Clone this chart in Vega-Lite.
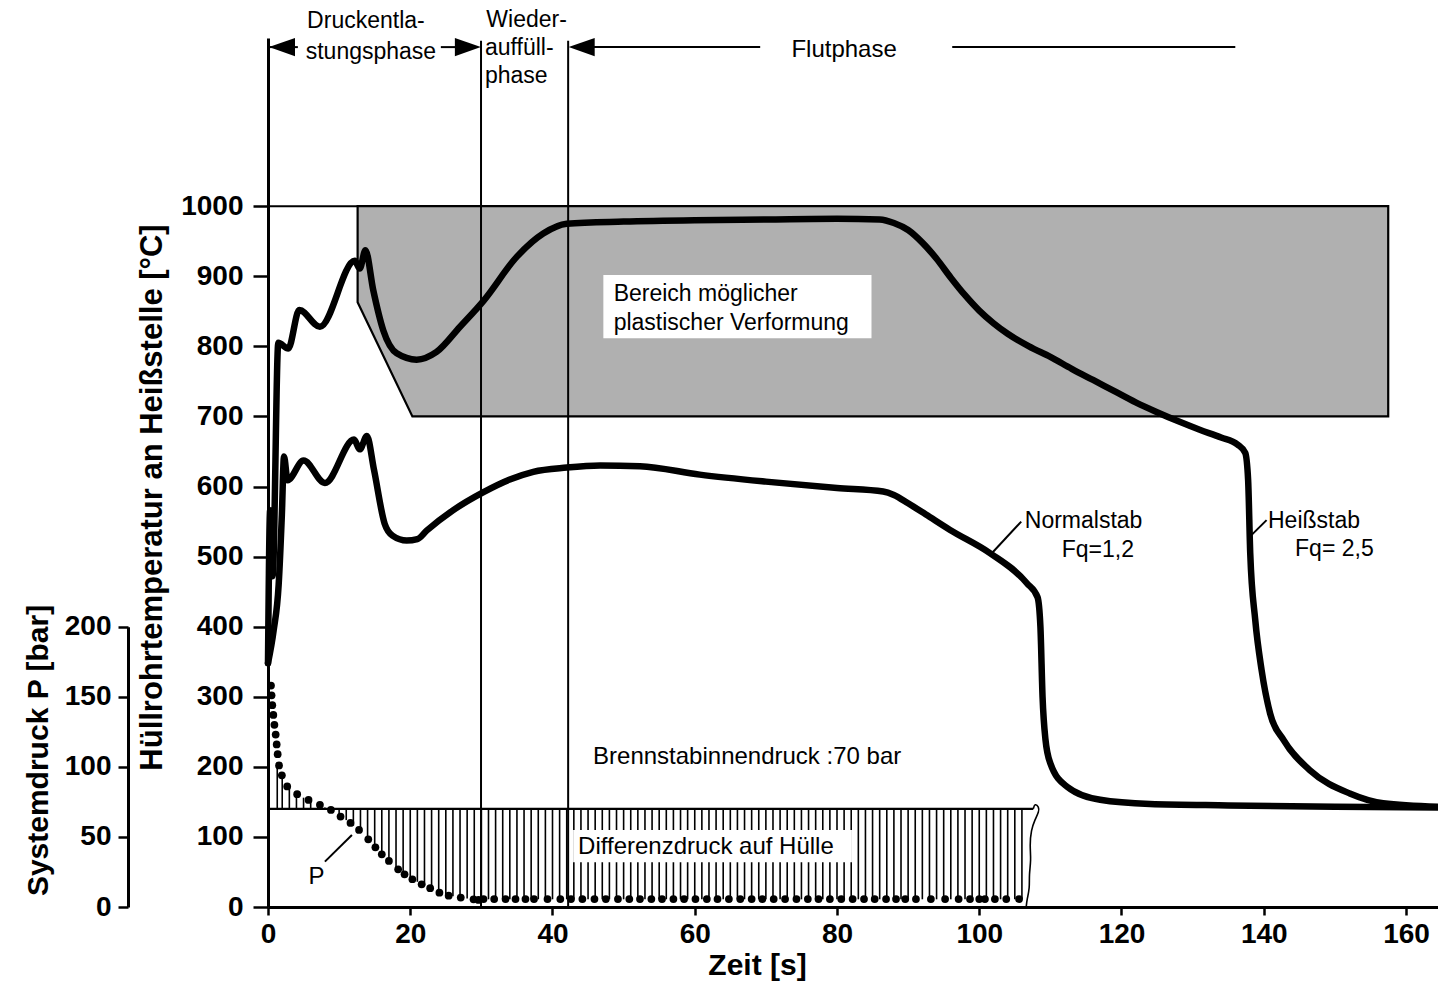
{
  "$schema": "https://vega.github.io/schema/vega-lite/v6.json",
  "width": 1170,
  "height": 869,
  "autosize": {"type": "none"},
  "padding": {"left": 268, "top": 38, "right": 0, "bottom": 77},
  "background": "white",
  "config": {
    "view": {"stroke": null},
    "font": "Liberation Sans",
    "axis": {
      "grid": false,
      "domainColor": "black",
      "domainWidth": 3,
      "tickColor": "black",
      "tickWidth": 2.5,
      "labelColor": "black",
      "labelFont": "Liberation Sans",
      "labelFontSize": 28,
      "labelFontWeight": "bold",
      "labelFlush": false,
      "labelOverlap": false,
      "labelBound": false,
      "format": "d",
      "titleColor": "black",
      "titleFont": "Liberation Sans",
      "titleFontSize": 30,
      "titleFontWeight": "bold"
    }
  },
  "datasets": {
    "curves": [
      {"series": "Heißstab", "t": 0, "T": 348},
      {"series": "Heißstab", "t": 0.3, "T": 566},
      {"series": "Heißstab", "t": 0.65, "T": 472},
      {"series": "Heißstab", "t": 1.45, "T": 805},
      {"series": "Heißstab", "t": 2.85, "T": 797},
      {"series": "Heißstab", "t": 4.4, "T": 852},
      {"series": "Heißstab", "t": 7.3, "T": 828},
      {"series": "Heißstab", "t": 12.2, "T": 922},
      {"series": "Heißstab", "t": 12.9, "T": 911},
      {"series": "Heißstab", "t": 13.7, "T": 937},
      {"series": "Heißstab", "t": 14.8, "T": 880},
      {"series": "Heißstab", "t": 16.2, "T": 823},
      {"series": "Heißstab", "t": 18.1, "T": 790},
      {"series": "Heißstab", "t": 20.9, "T": 781},
      {"series": "Heißstab", "t": 23.7, "T": 792},
      {"series": "Heißstab", "t": 27.0, "T": 828},
      {"series": "Heißstab", "t": 30.3, "T": 865},
      {"series": "Heißstab", "t": 35.0, "T": 928},
      {"series": "Heißstab", "t": 38.7, "T": 961},
      {"series": "Heißstab", "t": 42.0, "T": 975},
      {"series": "Heißstab", "t": 50, "T": 978},
      {"series": "Heißstab", "t": 60, "T": 980},
      {"series": "Heißstab", "t": 70, "T": 981},
      {"series": "Heißstab", "t": 80, "T": 982},
      {"series": "Heißstab", "t": 86, "T": 981},
      {"series": "Heißstab", "t": 88, "T": 976},
      {"series": "Heißstab", "t": 90, "T": 966},
      {"series": "Heißstab", "t": 92, "T": 948},
      {"series": "Heißstab", "t": 94, "T": 925},
      {"series": "Heißstab", "t": 96, "T": 898},
      {"series": "Heißstab", "t": 98, "T": 873},
      {"series": "Heißstab", "t": 100, "T": 851},
      {"series": "Heißstab", "t": 102, "T": 833},
      {"series": "Heißstab", "t": 104, "T": 818},
      {"series": "Heißstab", "t": 107, "T": 800},
      {"series": "Heißstab", "t": 110, "T": 785},
      {"series": "Heißstab", "t": 113, "T": 768},
      {"series": "Heißstab", "t": 116, "T": 752},
      {"series": "Heißstab", "t": 119, "T": 736},
      {"series": "Heißstab", "t": 122, "T": 720},
      {"series": "Heißstab", "t": 125, "T": 706},
      {"series": "Heißstab", "t": 128, "T": 693},
      {"series": "Heißstab", "t": 131, "T": 681},
      {"series": "Heißstab", "t": 134, "T": 670},
      {"series": "Heißstab", "t": 136.3, "T": 660},
      {"series": "Heißstab", "t": 137.4, "T": 648},
      {"series": "Heißstab", "t": 137.8, "T": 610},
      {"series": "Heißstab", "t": 138.1, "T": 505},
      {"series": "Heißstab", "t": 138.8, "T": 410},
      {"series": "Heißstab", "t": 139.7, "T": 338},
      {"series": "Heißstab", "t": 140.9, "T": 276},
      {"series": "Heißstab", "t": 142.8, "T": 238},
      {"series": "Heißstab", "t": 146.5, "T": 195},
      {"series": "Heißstab", "t": 152.1, "T": 162},
      {"series": "Heißstab", "t": 156.8, "T": 148},
      {"series": "Heißstab", "t": 164.5, "T": 143},
      {"series": "Normalstab", "t": 0, "T": 348},
      {"series": "Normalstab", "t": 0.8, "T": 395},
      {"series": "Normalstab", "t": 1.5, "T": 460},
      {"series": "Normalstab", "t": 1.95, "T": 560},
      {"series": "Normalstab", "t": 2.25, "T": 643},
      {"series": "Normalstab", "t": 2.75, "T": 609},
      {"series": "Normalstab", "t": 5.0, "T": 637},
      {"series": "Normalstab", "t": 8.0, "T": 605},
      {"series": "Normalstab", "t": 12.1, "T": 667},
      {"series": "Normalstab", "t": 12.9, "T": 653},
      {"series": "Normalstab", "t": 13.9, "T": 672},
      {"series": "Normalstab", "t": 14.9, "T": 624},
      {"series": "Normalstab", "t": 16.4, "T": 547},
      {"series": "Normalstab", "t": 17.5, "T": 530},
      {"series": "Normalstab", "t": 19.5, "T": 523},
      {"series": "Normalstab", "t": 21, "T": 525},
      {"series": "Normalstab", "t": 22.3, "T": 537},
      {"series": "Normalstab", "t": 26, "T": 566},
      {"series": "Normalstab", "t": 30.3, "T": 592},
      {"series": "Normalstab", "t": 34, "T": 610},
      {"series": "Normalstab", "t": 37.3, "T": 621},
      {"series": "Normalstab", "t": 42, "T": 627},
      {"series": "Normalstab", "t": 46.7, "T": 630},
      {"series": "Normalstab", "t": 52.3, "T": 629},
      {"series": "Normalstab", "t": 60.7, "T": 617},
      {"series": "Normalstab", "t": 70, "T": 607},
      {"series": "Normalstab", "t": 80, "T": 598},
      {"series": "Normalstab", "t": 86.5, "T": 593},
      {"series": "Normalstab", "t": 88, "T": 588},
      {"series": "Normalstab", "t": 90, "T": 576},
      {"series": "Normalstab", "t": 92.5, "T": 560},
      {"series": "Normalstab", "t": 95.9, "T": 538},
      {"series": "Normalstab", "t": 101.5, "T": 505},
      {"series": "Normalstab", "t": 106.7, "T": 462},
      {"series": "Normalstab", "t": 108.2, "T": 442},
      {"series": "Normalstab", "t": 108.6, "T": 400},
      {"series": "Normalstab", "t": 108.9, "T": 300},
      {"series": "Normalstab", "t": 109.3, "T": 240},
      {"series": "Normalstab", "t": 110, "T": 205},
      {"series": "Normalstab", "t": 112.3, "T": 172},
      {"series": "Normalstab", "t": 117, "T": 153},
      {"series": "Normalstab", "t": 124, "T": 147},
      {"series": "Normalstab", "t": 135, "T": 145},
      {"series": "Normalstab", "t": 150, "T": 143},
      {"series": "Normalstab", "t": 164.5, "T": 142}
    ],
    "dots": [
      {"t": 0.42, "P": 158}, {"t": 0.5, "P": 151}, {"t": 0.6, "P": 144}, {"t": 0.75, "P": 137},
      {"t": 0.9, "P": 130}, {"t": 1.08, "P": 123}, {"t": 1.22, "P": 116}, {"t": 1.36, "P": 109},
      {"t": 1.55, "P": 101}, {"t": 1.95, "P": 94}, {"t": 2.7, "P": 86}, {"t": 4.1, "P": 80.5},
      {"t": 5.7, "P": 76.4}, {"t": 7.3, "P": 72.9}, {"t": 8.85, "P": 69.3}, {"t": 10.2, "P": 64.5},
      {"t": 11.6, "P": 60}, {"t": 12.8, "P": 55}, {"t": 14.1, "P": 48.3}, {"t": 15.1, "P": 42.6},
      {"t": 16.0, "P": 37.6}, {"t": 17.0, "P": 32.9}, {"t": 18.3, "P": 26.9}, {"t": 19.2, "P": 23.3},
      {"t": 20.3, "P": 19.8}, {"t": 21.6, "P": 16.2}, {"t": 22.8, "P": 13.4}, {"t": 24.1, "P": 10.2},
      {"t": 25.4, "P": 8.1}, {"t": 27.1, "P": 6.7}, {"t": 28.9, "P": 5.5}, {"t": 29.6, "P": 5},
      {"t": 30.3, "P": 5.7}, {"t": 31.8, "P": 5.7}, {"t": 33.4, "P": 5.7}, {"t": 34.8, "P": 5.7},
      {"t": 36.2, "P": 5.7}, {"t": 37.4, "P": 5.7}, {"t": 39.3, "P": 5.7}, {"t": 41.1, "P": 5.7},
      {"t": 42.6, "P": 5.7}, {"t": 44.2, "P": 5.7}, {"t": 45.9, "P": 5.7}, {"t": 47.5, "P": 5.7},
      {"t": 49.2, "P": 5.7}, {"t": 50.8, "P": 5.7}, {"t": 52.3, "P": 5.7}, {"t": 53.9, "P": 5.7},
      {"t": 55.4, "P": 5.7}, {"t": 57.0, "P": 5.7}, {"t": 58.5, "P": 5.7}, {"t": 60.1, "P": 5.7},
      {"t": 61.7, "P": 5.7}, {"t": 63.2, "P": 5.7}, {"t": 64.8, "P": 5.7}, {"t": 66.4, "P": 5.7},
      {"t": 68.0, "P": 5.7}, {"t": 69.5, "P": 5.7}, {"t": 71.1, "P": 5.7}, {"t": 72.7, "P": 5.7},
      {"t": 74.3, "P": 5.7}, {"t": 75.9, "P": 5.7}, {"t": 77.4, "P": 5.7}, {"t": 79.0, "P": 5.7},
      {"t": 80.6, "P": 5.7}, {"t": 82.2, "P": 5.7}, {"t": 83.8, "P": 5.7}, {"t": 85.3, "P": 5.7},
      {"t": 86.9, "P": 5.7}, {"t": 88.3, "P": 5.7}, {"t": 89.6, "P": 5.7}, {"t": 91.1, "P": 5.7},
      {"t": 93.2, "P": 5.7}, {"t": 95.2, "P": 5.7}, {"t": 97.1, "P": 5.7}, {"t": 98.7, "P": 5.7},
      {"t": 100.0, "P": 5.7}, {"t": 100.8, "P": 5.7}, {"t": 102.2, "P": 5.7}, {"t": 103.8, "P": 5.7},
      {"t": 105.6, "P": 5.7}
    ],
    "diff": [
      {"t": 1.3, "P": 103}, {"t": 2, "P": 93}, {"t": 3, "P": 85}, {"t": 4, "P": 81}, {"t": 5, "P": 78},
      {"t": 6, "P": 75.5}, {"t": 7, "P": 73.5}, {"t": 8, "P": 71}, {"t": 9, "P": 69}, {"t": 10, "P": 66},
      {"t": 11, "P": 62}, {"t": 12, "P": 58}, {"t": 13, "P": 54}, {"t": 14, "P": 49}, {"t": 15, "P": 43.5},
      {"t": 16, "P": 38}, {"t": 17, "P": 33}, {"t": 18, "P": 28.5}, {"t": 19, "P": 24.5}, {"t": 20, "P": 21},
      {"t": 21, "P": 18}, {"t": 22, "P": 15.2}, {"t": 23, "P": 13}, {"t": 24, "P": 10.5}, {"t": 25, "P": 8.8},
      {"t": 26, "P": 7.6}, {"t": 27, "P": 6.7}, {"t": 28, "P": 6}, {"t": 29, "P": 5.5}, {"t": 30, "P": 5.5},
      {"t": 31, "P": 5.5}, {"t": 32, "P": 5.5}, {"t": 33, "P": 5.5}, {"t": 34, "P": 5.5}, {"t": 35, "P": 5.5},
      {"t": 36, "P": 5.5}, {"t": 37, "P": 5.5}, {"t": 38, "P": 5.5}, {"t": 39, "P": 5.5}, {"t": 40, "P": 5.5},
      {"t": 41, "P": 5.5}, {"t": 42, "P": 5.5}, {"t": 43, "P": 5.5}, {"t": 44, "P": 5.5}, {"t": 45, "P": 5.5},
      {"t": 46, "P": 5.5}, {"t": 47, "P": 5.5}, {"t": 48, "P": 5.5}, {"t": 49, "P": 5.5}, {"t": 50, "P": 5.5},
      {"t": 51, "P": 5.5}, {"t": 52, "P": 5.5}, {"t": 53, "P": 5.5}, {"t": 54, "P": 5.5}, {"t": 55, "P": 5.5},
      {"t": 56, "P": 5.5}, {"t": 57, "P": 5.5}, {"t": 58, "P": 5.5}, {"t": 59, "P": 5.5}, {"t": 60, "P": 5.5},
      {"t": 61, "P": 5.5}, {"t": 62, "P": 5.5}, {"t": 63, "P": 5.5}, {"t": 64, "P": 5.5}, {"t": 65, "P": 5.5},
      {"t": 66, "P": 5.5}, {"t": 67, "P": 5.5}, {"t": 68, "P": 5.5}, {"t": 69, "P": 5.5}, {"t": 70, "P": 5.5},
      {"t": 71, "P": 5.5}, {"t": 72, "P": 5.5}, {"t": 73, "P": 5.5}, {"t": 74, "P": 5.5}, {"t": 75, "P": 5.5},
      {"t": 76, "P": 5.5}, {"t": 77, "P": 5.5}, {"t": 78, "P": 5.5}, {"t": 79, "P": 5.5}, {"t": 80, "P": 5.5},
      {"t": 81, "P": 5.5}, {"t": 82, "P": 5.5}, {"t": 83, "P": 5.5}, {"t": 84, "P": 5.5}, {"t": 85, "P": 5.5},
      {"t": 86, "P": 5.5}, {"t": 87, "P": 5.5}, {"t": 88, "P": 5.5}, {"t": 89, "P": 5.5}, {"t": 90, "P": 5.5},
      {"t": 91, "P": 5.5}, {"t": 92, "P": 5.5}, {"t": 93, "P": 5.5}, {"t": 94, "P": 5.5}, {"t": 95, "P": 5.5},
      {"t": 96, "P": 5.5}, {"t": 97, "P": 5.5}, {"t": 98, "P": 5.5}, {"t": 99, "P": 5.5}, {"t": 100, "P": 5.5},
      {"t": 101, "P": 5.5}, {"t": 102, "P": 5.5}, {"t": 103, "P": 5.5}, {"t": 104, "P": 5.5}, {"t": 105, "P": 5.5},
      {"t": 106, "P": 5.5}
    ]
  },
  "layer": [
    {
      "layer": [
        {
          "description": "Bereich möglicher plastischer Verformung",
          "data": {"values": [
            {"t": 12.6, "T": 863, "T2": 1000},
            {"t": 20.3, "T": 700, "T2": 1000},
            {"t": 157.5, "T": 700, "T2": 1000}
          ]},
          "mark": {"type": "area", "fill": "#b0b0b0", "stroke": "black", "strokeWidth": 2.2},
          "encoding": {
            "x": {"field": "t", "type": "quantitative",
                  "scale": {"domain": [0, 164.5], "nice": false, "zero": false},
                  "axis": {"values": [0, 20, 40, 60, 80, 100, 120, 140, 160], "tickSize": 8, "labelPadding": 5,
                           "title": "Zeit [s]", "titleX": 489, "titleY": 58, "titleBaseline": "middle"}},
            "y": {"field": "T", "type": "quantitative",
                  "scale": {"domain": [0, 1240], "nice": false, "zero": false},
                  "axis": {"values": [0, 100, 200, 300, 400, 500, 600, 700, 800, 900, 1000], "tickSize": 15, "labelPadding": 10,
                           "title": "Hüllrohrtemperatur  an  Heißstelle  [°C]", "titleX": -116, "titleY": 459,
                           "titleFontSize": 31,
                           "titleBaseline": "middle", "titleAlign": "center", "titleAngle": 270}},
            "y2": {"field": "T2"}
          }
        },
        {
          "data": {"values": [{"t": 47.15, "t2": 84.85, "T": 811.5, "T2": 901.8}]},
          "mark": {"type": "rect", "fill": "white"},
          "encoding": {
            "x": {"field": "t", "type": "quantitative"},
            "x2": {"field": "t2"},
            "y": {"field": "T", "type": "quantitative"},
            "y2": {"field": "T2"}
          }
        },
        {
          "description": "horizontal guide lines: 1000 °C limit and phase arrows",
          "data": {"values": [
            {"t": 0, "t2": 12.6, "T": 1000},
            {"t": 0, "t2": 4.2, "T": 1227},
            {"t": 24.3, "t2": 28.5, "T": 1227},
            {"t": 44, "t2": 69.2, "T": 1227},
            {"t": 96.2, "t2": 136, "T": 1227}
          ]},
          "mark": {"type": "rule", "color": "black", "strokeWidth": 2},
          "encoding": {
            "x": {"field": "t", "type": "quantitative"},
            "x2": {"field": "t2"},
            "y": {"field": "T", "type": "quantitative"}
          }
        },
        {
          "description": "phase boundaries",
          "data": {"values": [
            {"t": 29.95, "T": 0, "T2": 1236},
            {"t": 42.2, "T": 0, "T2": 1236}
          ]},
          "mark": {"type": "rule", "color": "black", "strokeWidth": 2},
          "encoding": {
            "x": {"field": "t", "type": "quantitative"},
            "y": {"field": "T", "type": "quantitative"},
            "y2": {"field": "T2"}
          }
        },
        {
          "description": "phase arrowheads",
          "data": {"values": [
            {"t": 1.97, "T": 1227, "dir": "l"},
            {"t": 28.1, "T": 1227, "dir": "r"},
            {"t": 44.1, "T": 1227, "dir": "l"}
          ]},
          "mark": {"type": "point", "filled": true, "color": "black", "opacity": 1, "size": 676},
          "encoding": {
            "x": {"field": "t", "type": "quantitative"},
            "y": {"field": "T", "type": "quantitative"},
            "shape": {"field": "dir", "type": "nominal", "legend": null,
                      "scale": {"domain": ["l", "r"], "range": ["M -1 0 L 1 -0.7 L 1 0.7 Z", "M 1 0 L -1 -0.7 L -1 0.7 Z"]}}
          }
        },
        {
          "data": {"name": "curves"},
          "mark": {"type": "line", "color": "black", "strokeWidth": 6.5, "interpolate": "monotone", "strokeJoin": "round", "strokeCap": "round"},
          "encoding": {
            "x": {"field": "t", "type": "quantitative"},
            "y": {"field": "T", "type": "quantitative"},
            "detail": {"field": "series", "type": "nominal"}
          }
        },
        {
          "description": "label leaders",
          "data": {"values": [
            {"id": "n", "t": 101.6, "T": 503}, {"id": "n", "t": 105.9, "T": 550},
            {"id": "h", "t": 138.3, "T": 531}, {"id": "h", "t": 140.4, "T": 552}
          ]},
          "mark": {"type": "line", "color": "black", "strokeWidth": 2},
          "encoding": {
            "x": {"field": "t", "type": "quantitative"},
            "y": {"field": "T", "type": "quantitative"},
            "detail": {"field": "id", "type": "nominal"}
          }
        },
        {
          "data": {"values": [
            {"t": 5.5, "T": 1264, "label": "Druckentla-"},
            {"t": 5.3, "T": 1220, "label": "stungsphase"},
            {"t": 30.7, "T": 1266, "label": "Wieder-"},
            {"t": 30.5, "T": 1226, "label": "auffüll-"},
            {"t": 30.5, "T": 1186, "label": "phase"},
            {"t": 106.4, "T": 551, "label": "Normalstab"},
            {"t": 111.6, "T": 509, "label": "Fq=1,2"},
            {"t": 140.6, "T": 551, "label": "Heißstab"},
            {"t": 144.4, "T": 511, "label": "Fq= 2,5"}
          ]},
          "mark": {"type": "text", "align": "left", "baseline": "middle", "fontSize": 23, "color": "black"},
          "encoding": {
            "x": {"field": "t", "type": "quantitative"},
            "y": {"field": "T", "type": "quantitative"},
            "text": {"field": "label"}
          }
        },
        {
          "data": {"values": [
            {"t": 48.6, "T": 874, "label": "Bereich  möglicher"},
            {"t": 48.6, "T": 834, "label": "plastischer Verformung"}
          ]},
          "mark": {"type": "text", "align": "left", "baseline": "middle", "fontSize": 23, "color": "black"},
          "encoding": {
            "x": {"field": "t", "type": "quantitative"},
            "y": {"field": "T", "type": "quantitative"},
            "text": {"field": "label"}
          }
        },
        {
          "data": {"values": [{"t": 81, "T": 1223, "label": "Flutphase"}]},
          "mark": {"type": "text", "align": "center", "baseline": "middle", "fontSize": 24, "color": "black"},
          "encoding": {
            "x": {"field": "t", "type": "quantitative"},
            "y": {"field": "T", "type": "quantitative"},
            "text": {"field": "label"}
          }
        }
      ]
    },
    {
      "layer": [
        {
          "description": "Differenzdruck auf Hülle: fuel rod internal pressure minus system pressure",
          "data": {"name": "diff"},
          "mark": {"type": "rule", "color": "black", "strokeWidth": 1.6},
          "encoding": {
            "x": {"field": "t", "type": "quantitative"},
            "y": {"field": "P", "type": "quantitative",
                  "scale": {"domain": [0, 200], "range": [869, 588.7], "nice": false, "zero": false},
                  "axis": {"orient": "left", "offset": 140, "values": [0, 50, 100, 150, 200], "tickSize": 10, "labelPadding": 7,
                           "title": "Systemdruck P [bar]", "titleX": -90, "titleY": 712,
                           "titleBaseline": "middle", "titleAlign": "center", "titleAngle": 270}},
            "y2": {"datum": 70}
          }
        },
        {
          "description": "Brennstabinnendruck 70 bar",
          "data": {"values": [{"t": 0, "t2": 107.6, "P": 70}]},
          "mark": {"type": "rule", "color": "black", "strokeWidth": 2.2},
          "encoding": {
            "x": {"field": "t", "type": "quantitative"},
            "x2": {"field": "t2"},
            "y": {"field": "P", "type": "quantitative"}
          }
        },
        {
          "description": "break mark",
          "data": {"values": [
            {"i": 0, "t": 107.6, "P": 70}, {"i": 1, "t": 107.8, "P": 74}, {"i": 2, "t": 108.4, "P": 71.4},
            {"i": 3, "t": 108.4, "P": 68}, {"i": 4, "t": 107.8, "P": 62}, {"i": 5, "t": 107.3, "P": 55},
            {"i": 6, "t": 107.1, "P": 44}, {"i": 7, "t": 107.3, "P": 33.5}, {"i": 8, "t": 107.0, "P": 23},
            {"i": 9, "t": 107.1, "P": 13.6}, {"i": 10, "t": 106.7, "P": 5}, {"i": 11, "t": 106.6, "P": 0}
          ]},
          "mark": {"type": "line", "color": "black", "strokeWidth": 1.6, "interpolate": "basis"},
          "encoding": {
            "x": {"field": "t", "type": "quantitative"},
            "y": {"field": "P", "type": "quantitative"},
            "order": {"field": "i", "type": "quantitative"}
          }
        },
        {
          "data": {"values": [{"t": 42.9, "t2": 82.1, "P": 32, "P2": 55}]},
          "mark": {"type": "rect", "fill": "white"},
          "encoding": {
            "x": {"field": "t", "type": "quantitative"},
            "x2": {"field": "t2"},
            "y": {"field": "P", "type": "quantitative"},
            "y2": {"field": "P2"}
          }
        },
        {
          "description": "Systemdruck P",
          "data": {"name": "dots"},
          "mark": {"type": "circle", "color": "black", "opacity": 1, "size": 60},
          "encoding": {
            "x": {"field": "t", "type": "quantitative"},
            "y": {"field": "P", "type": "quantitative"}
          }
        },
        {
          "data": {"values": [{"t": 8.0, "P": 32.4}, {"t": 11.8, "P": 51.4}]},
          "mark": {"type": "line", "color": "black", "strokeWidth": 2},
          "encoding": {
            "x": {"field": "t", "type": "quantitative"},
            "y": {"field": "P", "type": "quantitative"}
          }
        },
        {
          "data": {"values": [
            {"t": 45.7, "P": 107, "label": "Brennstabinnendruck :70 bar"},
            {"t": 43.6, "P": 43, "label": "Differenzdruck  auf  Hülle"},
            {"t": 5.7, "P": 21.5, "label": "P"}
          ]},
          "mark": {"type": "text", "align": "left", "baseline": "middle", "fontSize": 24, "color": "black"},
          "encoding": {
            "x": {"field": "t", "type": "quantitative"},
            "y": {"field": "P", "type": "quantitative"},
            "text": {"field": "label"}
          }
        }
      ]
    }
  ],
  "resolve": {"scale": {"y": "independent"}, "axis": {"y": "independent"}}
}
